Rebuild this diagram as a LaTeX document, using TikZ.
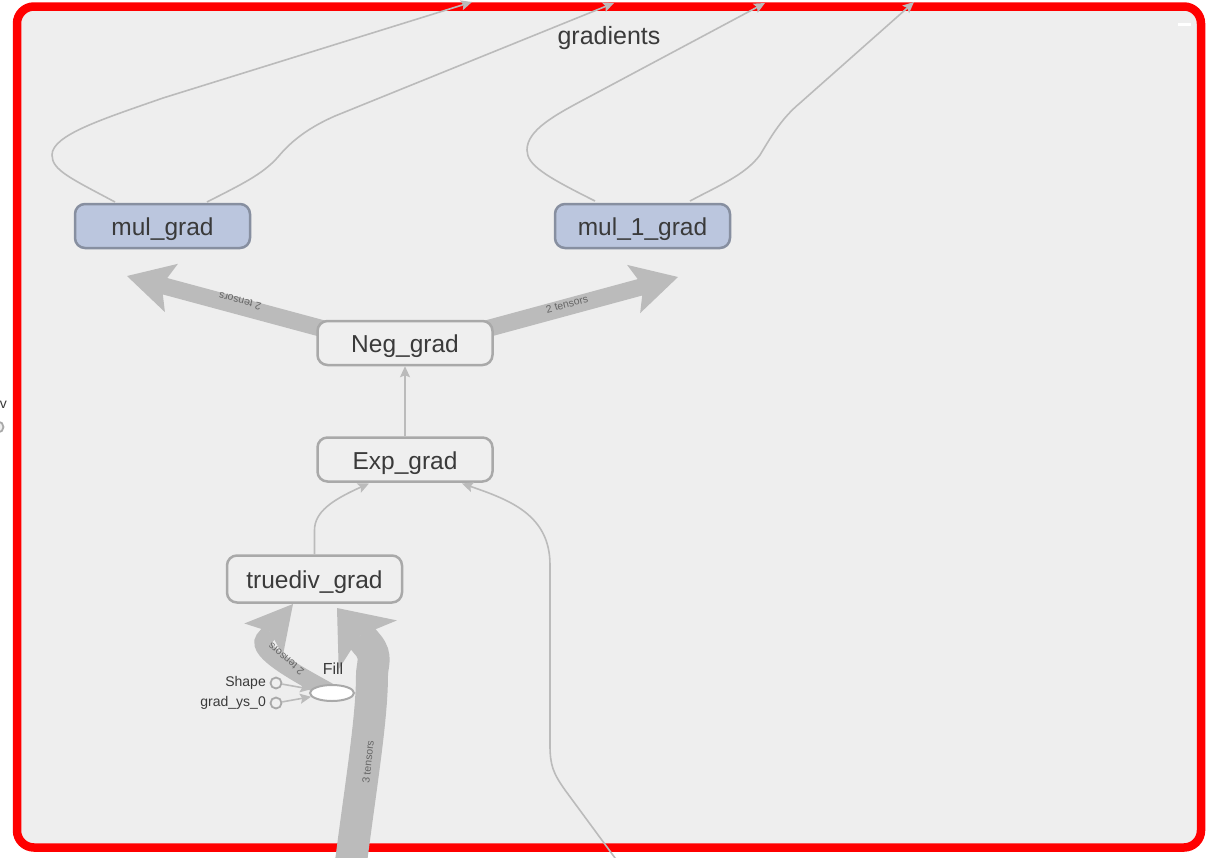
\documentclass[tikz,border=0pt]{standalone}
\usepackage{fontspec}
\setmainfont{Liberation Sans}
\usetikzlibrary{arrows.meta,shapes.geometric,calc}
\definecolor{bgc}{HTML}{EEEEEE}
\definecolor{edgec}{HTML}{BBBBBB}
\definecolor{thickc}{HTML}{BBBBBB}
\definecolor{opborder}{HTML}{A9A9A9}
\definecolor{opfill}{HTML}{EFEFEF}
\definecolor{mulborder}{HTML}{878FA0}
\definecolor{mulfill}{HTML}{BBC6DE}
\definecolor{txt}{HTML}{3A3A3A}
\definecolor{lbl}{HTML}{666666}
\begin{document}
\begin{tikzpicture}[x=1pt,y=-1pt,
  thinedge/.style={draw=edgec, line width=1.6, -{Stealth[length=11pt,width=10pt,inset=2pt]}},
  thickedge/.style={draw=thickc, line width=17, -{Stealth[length=46pt,width=50pt,inset=10pt,line width=0pt]}},
  hugeedge/.style={draw=thickc, line width=32, -{Stealth[length=48pt,width=76pt,inset=12pt,line width=0pt]}},
  opnode/.style={draw=opborder, fill=opfill, line width=2.5, rounded corners=10, minimum width=175, minimum height=44, inner sep=0, font=\fontsize{24.5}{28}\selectfont, text=txt, text height=19, text depth=0},
  mulnode/.style={opnode, draw=mulborder, fill=mulfill},
  tenslbl/.style={font=\fontsize{10.5}{12}\selectfont, text=lbl, inner sep=0},
  smallcirc/.style={circle, draw=opborder, fill=opfill, line width=1.8, minimum size=11, inner sep=0},
  smalltxt/.style={font=\fontsize{14}{16}\selectfont, text=txt, inner sep=0, anchor=east}
]
\useasboundingbox (0,0) rectangle (1210,857);
\fill[white] (0,0) rectangle (1210,857);
% outside fragments
\node[smalltxt] (vtxt) at (7,405) {v};
\node[smallcirc] (vcirc) at (-2,427) {};
% frame
\draw[red, line width=8.5, fill=bgc, rounded corners=17] (17,6.5) rectangle (1201,847.5);
\fill[white] (1178,23) rectangle (1191,26);
\node[font=\fontsize{25}{30}\selectfont, text=txt] (title) at (609,38) {gradients};

% coordinates
\coordinate (t1) at (472,2);
\coordinate (t2) at (614,3);
\coordinate (t3) at (765,3);
\coordinate (t4) at (914,2);
\coordinate (tipL) at (127,276);
\coordinate (tipR) at (678,277);
\coordinate (startL) at (335,332);
\coordinate (startR) at (475,332);
\coordinate (bottomA) at (618,862);
\coordinate (bottomB) at (350,870);
\coordinate (tipF) at (293,604);
\coordinate (tipD) at (337,608);
\coordinate (fillc) at (332,693);

% thick edges
\draw[thickedge] (startL) -- (tipL);
\draw[thickedge] (startR) -- (tipR);
\node[tenslbl, rotate=165] (lblL) at (240,301) {2 tensors};
\node[tenslbl, rotate=15] (lblR) at (567,304) {2 tensors};

\draw[hugeedge] (bottomB) .. controls (360,790) and (372,720) .. (372,675) .. controls (372,665) and (377.6,656.6) .. (368,645) -- (tipD);
\node[tenslbl, rotate=84] (lbl3) at (368,762) {3 tensors};

\draw[thickedge] (fillc) .. controls (300,675) and (255,652) .. (264,639) -- (tipF);
\node[tenslbl, rotate=140] (lblF) at (286,659) {2 tensors};

% thin edges
\draw[thinedge] (115,202) .. controls (70,178) and (52,170) .. (52,155) .. controls (52,135) and (103,119) .. (163,98) -- (t1);
\draw[thinedge] (207,202) .. controls (240,185) and (262,175) .. (278,157) .. controls (292,140) and (310,127) .. (335,116) -- (t2);
\draw[thinedge] (595,201) .. controls (545,176) and (527,165) .. (527,150) .. controls (527,130) and (555,115) .. (587,98) -- (t3);
\draw[thinedge] (690,201) .. controls (720,185) and (745,175) .. (760,155) .. controls (772,135) and (782,118) .. (800,103) -- (t4);

\node[mulnode] (mulg) at (162.5,226) {mul\_grad};
\node[mulnode] (mul1g) at (642.5,226) {mul\_1\_grad};
\node[opnode] (neg) at (405,343) {Neg\_grad};
\node[opnode] (exp) at (405,459.5) {Exp\_grad};
\node[opnode, minimum height=47] (div) at (314.5,579) {truediv\_grad};

\draw[thinedge] (exp.north) -- (neg.south);
\draw[thinedge] (div.north) -- ++(0,-24) .. controls (314.5,512) and (332,500) .. (369,483.5);
\draw[thinedge] (bottomA) -- (565,790) .. controls (553,773) and (550,765) .. (550,745) -- (550,565) .. controls (550,515) and (510,500) .. (462,483.5);

% Fill and inputs
\node[draw=opborder, fill=white, ellipse, line width=2, minimum width=44, minimum height=16, inner sep=0] (fill) at (fillc) {};
\node[font=\fontsize{16}{18}\selectfont, text=txt, inner sep=0] (filllbl) at (333,669) {Fill};
\node[smallcirc] (shape) at (276,683) {};
\node[smallcirc] (gys) at (276,703) {};
\node[smalltxt] (shapelbl) at (266,683) {Shape};
\node[smalltxt] (gyslbl) at (266,703) {grad\_ys\_0};
\draw[thinedge] (shape) -- (fill);
\draw[thinedge] (gys) -- (fill);
\end{tikzpicture}
\end{document}
